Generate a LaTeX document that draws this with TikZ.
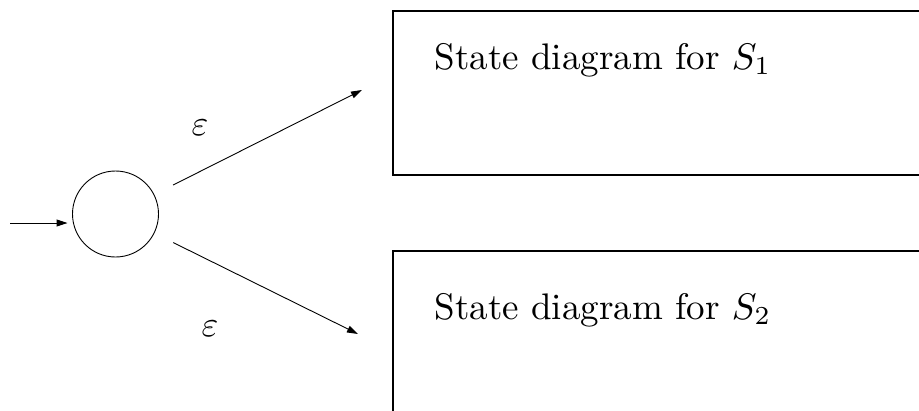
\documentclass[tikz,border=0pt]{standalone}
\usetikzlibrary{arrows.meta}
\begin{document}
\begin{tikzpicture}[x=1pt,y=-1pt,
  line width=0.9pt,
  arr/.style={-{Triangle[length=11pt,width=7pt]}},
  state/.style={circle,draw,minimum size=86pt,inner sep=0pt},
  boxline/.style={draw,line width=1.1pt},
  lbl/.style={scale=3.6,inner sep=0pt},
  txt/.style={scale=3.7,inner sep=0pt,anchor=base west}]
\useasboundingbox (0,0) rectangle (919,410);
\node[state] (q0) at (115.5,214) {};
\coordinate (start) at (10,223);
\coordinate (t1) at (362,90);
\coordinate (t2) at (358,334);
\draw[boxline] (940,11) -- (393,11) -- (393,175) -- (940,175);
\draw[boxline] (940,251) -- (393,251) -- (393,430);
\node[txt] (s1) at (433,69) {State diagram for $S_1$};
\node[txt] (s2) at (433,319) {State diagram for $S_2$};
\draw[arr,shorten >=4.5pt] (start) -- (start -| q0.west);
\draw[arr,shorten <=21pt] (q0) -- (t1);
\draw[arr,shorten <=21pt] (q0) -- (t2);
\node[lbl] (e1) at (200,128) {$\varepsilon$};
\node[lbl] (e2) at (210,329) {$\varepsilon$};
\end{tikzpicture}
\end{document}
